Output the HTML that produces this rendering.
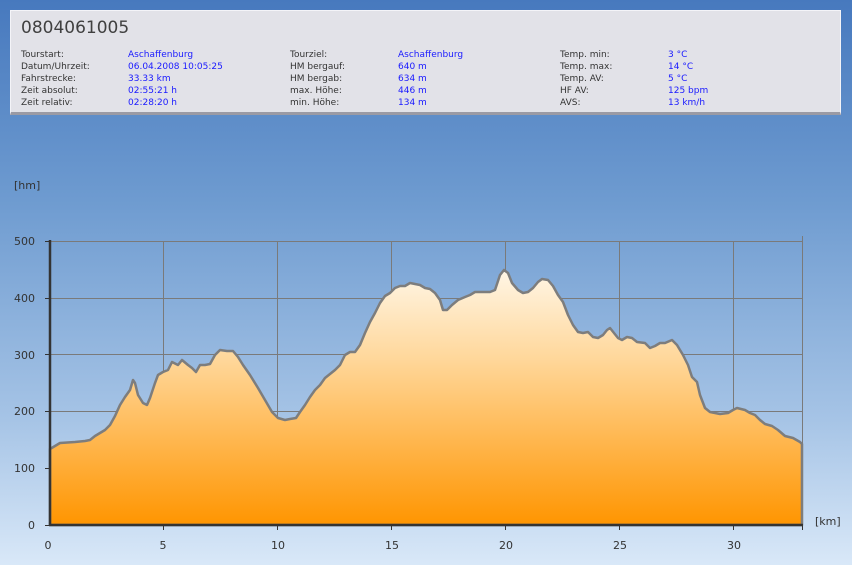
<!DOCTYPE html>
<html><head><meta charset="utf-8"><style>
body{margin:0;width:852px;height:565px;overflow:hidden;background:linear-gradient(#4779be 0px,#6e9bd0 200px,#a6c4e6 420px,#d9e8f8 565px);font-family:Tahoma,"DejaVu Sans","Liberation Sans",sans-serif;position:relative}
#hdr{position:absolute;left:10px;top:10px;width:831px;height:105px;background:#e2e2e8;border:1px solid #f4f4f8;border-bottom:3px solid #9a9aa4;box-sizing:border-box}
#title{position:absolute;left:10px;top:7px;font-size:17px;color:#404040}
.l{position:absolute;font-size:9px;color:#333;line-height:12px}
.v{position:absolute;font-size:9px;color:#1a1aff;line-height:12px}
</style></head><body>
<div id="hdr"><div id="title">0804061005</div>
<div class="l" style="left:10px;top:38px">Tourstart:<br>Datum/Uhrzeit:<br>Fahrstrecke:<br>Zeit absolut:<br>Zeit relativ:</div>
<div class="v" style="left:117px;top:38px">Aschaffenburg<br>06.04.2008 10:05:25<br>33.33 km<br>02:55:21 h<br>02:28:20 h</div>
<div class="l" style="left:279px;top:38px">Tourziel:<br>HM bergauf:<br>HM bergab:<br>max. Höhe:<br>min. Höhe:</div>
<div class="v" style="left:387px;top:38px">Aschaffenburg<br>640 m<br>634 m<br>446 m<br>134 m</div>
<div class="l" style="left:549px;top:38px">Temp. min:<br>Temp. max:<br>Temp. AV:<br>HF AV:<br>AVS:</div>
<div class="v" style="left:657px;top:38px">3 °C<br>14 °C<br>5 °C<br>125 bpm<br>13 km/h</div>
</div>
<svg width="852" height="565" style="position:absolute;left:0;top:0" font-family="DejaVu Sans, Liberation Sans, sans-serif" font-size="11" fill="#333">
<defs><linearGradient id="g" x1="0" y1="0" x2="0" y2="1"><stop offset="0" stop-color="#fff6e6"/><stop offset="0.35" stop-color="#ffd79a"/><stop offset="1" stop-color="#ff9500"/></linearGradient></defs>
<g stroke="#7a7a7a" stroke-width="1">
<line x1="50" y1="241.5" x2="803" y2="241.5"/><line x1="50" y1="298.5" x2="803" y2="298.5"/><line x1="50" y1="354.5" x2="803" y2="354.5"/><line x1="50" y1="411.5" x2="803" y2="411.5"/><line x1="50" y1="468.5" x2="803" y2="468.5"/>
<line x1="163.5" y1="241" x2="163.5" y2="525"/><line x1="277.5" y1="241" x2="277.5" y2="525"/><line x1="391.5" y1="241" x2="391.5" y2="525"/><line x1="505.5" y1="241" x2="505.5" y2="525"/><line x1="619.5" y1="241" x2="619.5" y2="525"/><line x1="733.5" y1="241" x2="733.5" y2="525"/><line x1="802.5" y1="236" x2="802.5" y2="530"/>
</g>
<polygon fill="url(#g)" stroke="#7d7d7d" stroke-width="2.5" stroke-linejoin="round" points="50,525 50,449 55,446 60,443 75,442 85,441 90,440 95,436 100,433 105,430 110,425 115,416 120,405 125,397 130,390 133,380 135,383 138,395 143,403 147,405 150,398 155,383 158,375 163,372 168,370 172,362 178,365 182,360 188,365 192,368 196,372 200,365 205,365 210,364 215,355 220,350 227,351 233,351 238,357 243,365 250,375 258,388 265,400 272,412 278,418 285,420 290,419 296,418 300,412 305,405 310,397 315,390 320,385 325,378 330,374 335,370 340,365 345,355 350,352 355,352 360,345 365,333 370,322 375,313 380,303 385,296 390,293 395,288 400,286 405,286 410,283 415,284 420,285 425,288 430,289 435,293 440,300 443,310 447,310 452,305 458,300 465,297 470,295 475,292 480,292 485,292 490,292 495,290 500,275 504,270 508,273 512,283 518,290 523,293 528,292 533,288 538,282 542,279 548,280 553,286 558,295 563,302 568,315 573,325 578,332 583,333 588,332 593,337 598,338 603,335 607,330 610,328 614,333 618,338 622,340 627,337 632,338 637,342 645,343 650,348 655,346 660,343 665,343 672,340 677,345 683,355 688,365 692,377 697,382 700,395 705,408 710,412 720,414 728,413 733,410 737,408 745,410 750,413 755,415 760,420 765,424 772,426 778,430 785,436 793,438 800,442 802,444 802,525"/>
<g stroke="#333" stroke-width="2.5"><line x1="50" y1="240" x2="50" y2="526"/><line x1="49" y1="525" x2="803" y2="525"/></g>
<g stroke="#333" stroke-width="1"><line x1="45" y1="241.5" x2="50" y2="241.5"/><line x1="45" y1="298.5" x2="50" y2="298.5"/><line x1="45" y1="354.5" x2="50" y2="354.5"/><line x1="45" y1="411.5" x2="50" y2="411.5"/><line x1="45" y1="468.5" x2="50" y2="468.5"/><line x1="45" y1="525.5" x2="50" y2="525.5"/>
<line x1="163.5" y1="525" x2="163.5" y2="530"/><line x1="277.5" y1="525" x2="277.5" y2="530"/><line x1="391.5" y1="525" x2="391.5" y2="530"/><line x1="505.5" y1="525" x2="505.5" y2="530"/><line x1="619.5" y1="525" x2="619.5" y2="530"/><line x1="733.5" y1="525" x2="733.5" y2="530"/><line x1="802.5" y1="525" x2="802.5" y2="530"/></g>
<g text-anchor="end"><text x="35" y="245">500</text><text x="35" y="302">400</text><text x="35" y="359">300</text><text x="35" y="415">200</text><text x="35" y="472">100</text><text x="35" y="529">0</text></g>
<g text-anchor="middle"><text x="48" y="549">0</text><text x="163" y="549">5</text><text x="278" y="549">10</text><text x="392" y="549">15</text><text x="506" y="549">20</text><text x="620" y="549">25</text><text x="734" y="549">30</text></g>
<text x="14" y="189">[hm]</text><text x="815" y="525">[km]</text>
</svg>
</body></html>
